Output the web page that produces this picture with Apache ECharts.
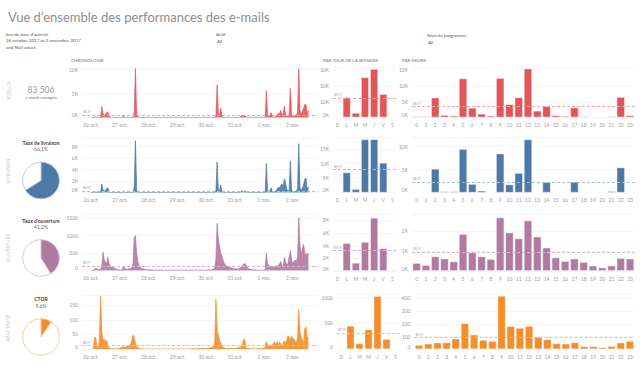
<!DOCTYPE html>
<html><head><meta charset="utf-8">
<script src="https://cdn.jsdelivr.net/npm/echarts@6/dist/echarts.min.js"></script>
<style>html,body{margin:0;padding:0;background:#fff}#c{width:640px;height:370px}</style>
</head><body><div id="c"></div>
<script>
// ---------- DATA ----------
const totalSent = 83506;
const rates = [66.1, 41.2, 9.6];               // livraison, ouverture, CTOR (%)
const chronoLabels = ['26 oct.','27 oct.','28 oct.','29 oct.','30 oct.','31 oct.','1 nov.','2 nov.'];
const chronoTicks = [0,24,48,72,96,120,144,168]; // hours since 26 oct. 00:00
const dayLabels = ['D','L','M','M','J','V','S'];
const hourLabels = ['0','1','2','3','4','5','6','7','8','9','10','11','12','13','14','15','16','17','18','19','20','21','22','23'];

// chronology: [hour since 26 oct 00:00, value]
const envoisChrono = [[0,0],[3,0],[4,150],[5,0],[8,0],[9,2300],[10,900],[11,400],[12,600],[13,1000],[14,1200],[15,300],[16,100],[17,0],[26,0],[27,350],[28,0],[35,0],[36,1200],[37,10300],[38,700],[39,200],[40,0],[103,0],[104,400],[105,6800],[106,900],[107,400],[108,2000],[109,300],[110,0],[124,0],[125,300],[126,450],[127,200],[128,400],[129,250],[130,0],[145,0],[146,5600],[147,500],[148,200],[149,400],[150,1000],[151,300],[152,100],[153,0],[154,300],[155,600],[156,900],[157,700],[158,1500],[159,400],[160,800],[161,2400],[162,500],[163,200],[164,300],[165,700],[166,6100],[167,500],[168,300],[169,200],[170,400],[171,300],[172,1100],[173,10300],[174,1400],[175,500],[176,1300],[177,1900],[178,2700],[179,2800],[180,700],[181,1500]];
const livraisonChrono = [[0,0],[3,0],[4,100],[5,0],[8,0],[9,1500],[10,500],[11,250],[12,400],[13,700],[14,800],[15,200],[16,0],[26,0],[27,200],[28,0],[35,0],[36,900],[37,9000],[38,400],[39,100],[40,0],[103,0],[104,300],[105,5300],[106,500],[107,300],[108,1300],[109,200],[110,0],[124,0],[125,200],[126,300],[127,150],[128,300],[129,150],[130,0],[145,0],[146,5100],[147,400],[148,150],[149,300],[150,800],[151,200],[152,100],[153,0],[154,300],[155,600],[156,900],[157,800],[158,1200],[159,1500],[160,1100],[161,2400],[162,1600],[163,600],[164,200],[165,500],[166,5500],[167,400],[168,200],[169,100],[170,200],[171,150],[172,800],[173,8500],[174,900],[175,300],[176,800],[177,1300],[178,2300],[179,2500],[180,500],[181,1000]];
const ouvertureChrono = [[0,0],[2,0],[3,40],[4,60],[5,40],[6,20],[8,30],[9,150],[10,520],[11,300],[12,250],[13,180],[14,380],[15,200],[16,120],[17,100],[18,90],[19,80],[20,60],[21,40],[22,30],[23,20],[24,10],[26,20],[27,120],[28,60],[29,40],[30,30],[31,40],[32,50],[33,60],[34,80],[35,200],[36,950],[37,1000],[38,500],[39,250],[40,150],[41,100],[42,70],[43,50],[44,40],[46,30],[48,20],[52,15],[60,10],[72,10],[84,10],[96,10],[100,20],[102,40],[103,80],[104,300],[105,1350],[106,900],[107,700],[108,500],[109,400],[110,300],[111,200],[112,150],[113,120],[114,100],[116,80],[118,60],[120,50],[122,40],[124,60],[125,100],[126,130],[127,170],[128,210],[129,150],[130,90],[131,60],[132,40],[134,20],[138,10],[144,10],[145,20],[146,500],[147,200],[148,150],[149,100],[150,120],[151,90],[152,80],[153,120],[154,100],[155,150],[156,120],[157,200],[158,260],[159,150],[160,100],[161,380],[162,250],[163,150],[164,200],[165,400],[166,560],[167,300],[168,200],[169,250],[170,300],[171,250],[172,400],[173,1500],[174,700],[175,450],[176,630],[177,750],[178,500],[179,400],[180,500],[181,450]];
const ctorChrono = [[0,0],[2,0],[3,40],[4,38],[5,5],[6,5],[7,30],[8,180],[9,60],[10,30],[11,35],[12,20],[13,30],[14,10],[15,5],[16,2],[20,0],[24,2],[26,8],[28,5],[30,10],[32,8],[33,15],[34,30],[35,48],[36,40],[37,20],[38,8],[40,2],[44,0],[80,0],[96,2],[100,4],[102,8],[103,20],[104,170],[105,60],[106,50],[107,30],[108,20],[109,10],[110,5],[112,2],[120,2],[124,5],[126,15],[127,30],[128,35],[129,5],[130,2],[136,0],[144,2],[145,5],[146,25],[147,15],[148,10],[149,15],[150,8],[152,20],[153,25],[154,10],[155,25],[156,15],[157,25],[158,15],[159,10],[160,20],[161,28],[162,20],[163,30],[164,45],[165,40],[166,30],[167,45],[168,35],[169,35],[170,25],[171,20],[172,40],[173,135],[174,60],[175,40],[176,30],[177,25],[178,70],[179,75],[180,40],[181,40]];
const chronoMoy = [435, 287, 118, 11.5];

const envoisJour = [300,12800,3000,25500,30800,14900,300];
const livraisonJour = [0,7000,1270,18400,18400,10300,0];
const ouvertureJour = [150,4400,1300,4600,8400,3600,150];
const ctorJour = [15,455,115,385,1030,200,10];

const envoisHeure = [400,400,6300,800,600,12400,3100,1200,600,12500,4200,6400,15500,2150,3600,700,500,3200,400,200,300,400,6500,700];
const livraisonHeure = [0,0,5200,300,300,9500,1900,450,150,8500,1800,4300,11600,150,2300,150,150,2400,0,0,0,350,5500,0];
const ouvertureHeure = [400,300,730,620,480,1850,930,730,600,2680,1930,1630,2530,1720,1170,680,500,620,450,270,180,270,650,620];
const ctorHeure = [34,45,53,55,84,205,116,74,66,420,182,168,184,97,79,47,45,55,24,24,16,26,53,66];

// ---------- STYLE / LAYOUT ----------
const FONT = 'Lato, "Open Sans", sans-serif';
const colors = ['#e15759','#4e79a7','#b07aa1','#f28e2b'];
const lightColors = ['#f2a3a6','#a3c0de','#d9b3cf','#f8bd85'];
const chronoRows = [[68,117.5],[138.5,192.5],[214.5,270.5],[295,349]];
const barRows = [[67,117.5],[137.5,192.7],[214,271],[294.5,349.3]];
const dowX = [[333,64],[333,64],[333,64],[337,63]];
const hourX = [[412,222.7],[412,222.7],[412,222.7],[414.5,220]];
const yChrono = [{max:10400,interval:5000,k:true},{max:9400,interval:2000,k:true},{max:1600,interval:500},{max:185,interval:50}];
const yDow = [{max:32000,interval:10000,k:true},{max:19000,interval:5000,k:true},{max:9000,interval:2000,k:true},{max:1060,interval:500}];
const yHour = [{max:16000,interval:5000,k:true},{max:12000,interval:5000,k:true},{max:2850,interval:1000,k:true},{max:430,interval:100}];

const chronoData = [envoisChrono, livraisonChrono, ouvertureChrono, ctorChrono];
const dowData = [envoisJour, livraisonJour, ouvertureJour, ctorJour];
const hourData = [envoisHeure, livraisonHeure, ouvertureHeure, ctorHeure];

const grid = [], xAxis = [], yAxis = [], series = [];
const lblBase = {fontSize:5, color:'#9c9c9c', fontFamily:FONT};

function mkY(idx, cfg) {
  return {type:'value', gridIndex:idx, min:0, max:cfg.max, interval:cfg.interval,
    axisLine:{show:false}, axisTick:{show:false},
    splitLine:{lineStyle:{color:'#eeeeee', width:0.6}},
    axisLabel:Object.assign({}, lblBase, {margin:4, verticalAlignMinLabel:'bottom',
      formatter: v => (v % cfg.interval) ? '' : (cfg.k ? (v/1000)+'K' : String(v))})};
}
function moyLine(r, data) {
  return {symbol:['none','none'], silent:true, animation:false,
    lineStyle:{type:[3,2], color:lightColors[r], width:1},
    label:{show:true, position:'insideStartTop', formatter:'MOY', fontSize:3.5, color:'#a0a0a0', distance:[1,1]},
    data:[data]};
}

for (let r = 0; r < 4; r++) {
  // chronologie
  let gi = grid.length;
  grid.push({left:82, width:236, top:chronoRows[r][0], height:chronoRows[r][1]-chronoRows[r][0], containLabel:false, outerBoundsMode:'none'});
  xAxis.push({type:'value', gridIndex:gi, min:-7.5, max:189, axisLine:{show:false}, axisTick:{show:false}, splitLine:{show:false},
    axisLabel:Object.assign({}, lblBase, {margin:5, customValues:chronoTicks, formatter: v => chronoLabels[Math.round(v/24)]})});
  yAxis.push(mkY(gi, yChrono[r]));
  series.push({type:'line', xAxisIndex:gi, yAxisIndex:gi, data:chronoData[r], showSymbol:false, symbol:'none',
    lineStyle:{color:colors[r], width:0.7}, areaStyle:{color:colors[r], opacity:0.9},
    markLine:moyLine(r, {yAxis:chronoMoy[r]})});
  // par jour
  gi = grid.length;
  grid.push({left:dowX[r][0], width:dowX[r][1], top:barRows[r][0], height:barRows[r][1]-barRows[r][0], containLabel:false, outerBoundsMode:'none'});
  xAxis.push({type:'category', gridIndex:gi, data:dayLabels, axisLine:{show:false}, axisTick:{show:false},
    axisLabel:Object.assign({}, lblBase, {margin:5, interval:0})});
  yAxis.push(mkY(gi, yDow[r]));
  series.push({type:'bar', xAxisIndex:gi, yAxisIndex:gi, data:dowData[r], barCategoryGap:'12%',
    itemStyle:{color:colors[r], borderColor:'rgba(255,255,255,0.55)', borderWidth:0.8},
    markLine:moyLine(r, {type:'average'})});
  // par heure
  gi = grid.length;
  grid.push({left:hourX[r][0], width:hourX[r][1], top:barRows[r][0], height:barRows[r][1]-barRows[r][0], containLabel:false, outerBoundsMode:'none'});
  xAxis.push({type:'category', gridIndex:gi, data:hourLabels, axisLine:{show:false}, axisTick:{show:false},
    axisLabel:Object.assign({}, lblBase, {margin:5, interval:0})});
  yAxis.push(mkY(gi, yHour[r]));
  series.push({type:'bar', xAxisIndex:gi, yAxisIndex:gi, data:hourData[r], barCategoryGap:'10%',
    itemStyle:{color:colors[r], borderColor:'rgba(255,255,255,0.55)', borderWidth:0.8},
    markLine:moyLine(r, {type:'average'})});
}

// pies
const pieCenters = [[41,180.5],[41,258],[41,337]];
rates.forEach((rate, i) => {
  const r = i + 1;
  series.push({type:'pie', center:pieCenters[i], radius:18.3, startAngle:90, clockwise:true, silent:true,
    label:{show:false}, labelLine:{show:false},
    itemStyle:{borderColor:lightColors[r], borderWidth:0.8},
    data:[{value:rate, itemStyle:{color:colors[r]}}, {value:100-rate, itemStyle:{color:'#ffffff'}}]});
});

function txt(x, y, text, o) {
  o = o || {};
  return {type:'text', x:x, y:y, rotation:o.rot || 0, silent:true,
    style:{text:text, fill:o.color || '#666', fontSize:o.size || 4.5, fontFamily:FONT,
      fontWeight:o.weight || 'normal', align:o.align || 'left', verticalAlign:'middle'}};
}
const fmtPct = v => String(v).replace('.', ',') + '%';
const fmtNum = v => String(v).replace(/\B(?=(\d{3})+(?!\d))/g, ' ');
const V = Math.PI / 2;
const graphic = [
  txt(8, 17, 'Vue d’ensemble des performances des e-mails', {size:13, color:'#8e8e8e'}),
  txt(5, 34.3, "Jour de date d'activité", {color:'#555'}),
  txt(6, 40.6, '26 octobre 2017 to 2 novembre 2017', {color:'#555'}),
  txt(6, 47, 'and Null values', {color:'#555'}),
  txt(216, 34.5, 'Actif', {color:'#555'}),
  txt(217, 41, 'All', {color:'#555'}),
  txt(427, 35, 'Nom du programme', {color:'#555'}),
  txt(428, 42, 'All', {color:'#555'}),
  txt(71, 60.5, 'CHRONOLOGIE', {color:'#777'}),
  txt(323, 60.5, 'PAR JOUR DE LA SEMAINE', {color:'#777'}),
  txt(402, 60.5, 'PAR HEURE', {color:'#777'}),
  txt(9, 91, 'TOTAUX', {rot:V, align:'center', color:'#c9c9c9', size:4.8}),
  txt(8, 171, 'LIVRAISON', {rot:V, align:'center', color:'#c9c9c9', size:4.8}),
  txt(8, 248, 'OUVERTURE', {rot:V, align:'center', color:'#c9c9c9', size:4.8}),
  txt(8, 328, 'RÉACTIVITÉ', {rot:V, align:'center', color:'#c9c9c9', size:4.8}),
  txt(41, 89.5, fmtNum(totalSent), {align:'center', size:8.5, color:'#9a9a9a'}),
  txt(41, 97.5, 'e-mails envoyés', {align:'center', color:'#666'}),
  txt(41, 142.7, 'Taux de livraison', {align:'center', size:5, weight:'bold', color:'#444'}),
  txt(41, 149.3, fmtPct(rates[0]), {align:'center', size:5, color:'#666'}),
  txt(41, 220.7, 'Taux d’ouverture', {align:'center', size:5, weight:'bold', color:'#444'}),
  txt(41, 227.3, fmtPct(rates[1]), {align:'center', size:5, color:'#666'}),
  txt(41, 299.3, 'CTOR', {align:'center', size:5, weight:'bold', color:'#444'}),
  txt(41, 306, fmtPct(rates[2]), {align:'center', size:5, color:'#666'})
];

const chart = echarts.init(document.getElementById('c'), null, {renderer:'svg', width:640, height:370});
chart.setOption({animation:false, backgroundColor:'#ffffff', grid, xAxis, yAxis, series, graphic});
</script></body></html>
